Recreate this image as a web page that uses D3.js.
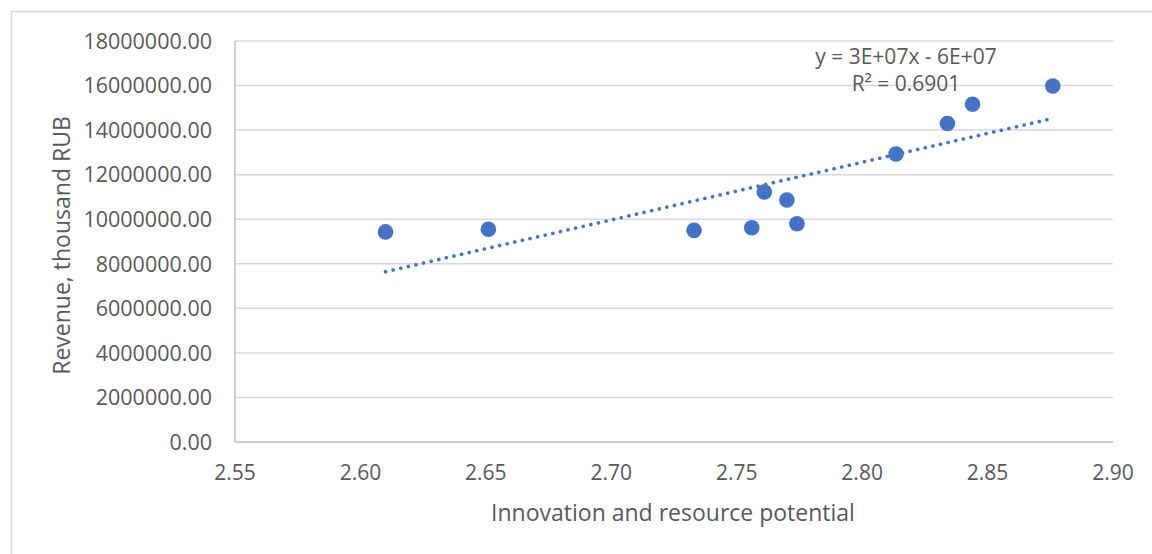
<!DOCTYPE html>
<html>
<head>
<meta charset="utf-8">
<script src="https://cdn.jsdelivr.net/npm/d3@7"></script>
<style>
  html, body { margin: 0; padding: 0; background: #fff; }
  svg { display: block; }
  text { font-family: "Open Sans", sans-serif; fill: #595959; }
</style>
</head>
<body>
<svg id="chart" width="1152" height="554"></svg>
<script>
// Data
const potential = [2.610, 2.651, 2.733, 2.756, 2.761, 2.770, 2.774, 2.8135, 2.834, 2.844, 2.876];
const revenue   = [9430000, 9550000, 9500000, 9620000, 11220000, 10860000, 9800000, 12930000, 14300000, 15160000, 15980000];
const xTicks = [2.55, 2.60, 2.65, 2.70, 2.75, 2.80, 2.85, 2.90];
const yTicks = [0, 2000000, 4000000, 6000000, 8000000, 10000000, 12000000, 14000000, 16000000, 18000000];
const equationText = "y = 3E+07x - 6E+07";
const r2Text = "R² = 0.6901";
const xTitle = "Innovation and resource potential";
const yTitle = "Revenue, thousand RUB";

const svg = d3.select("#chart");
const margin = { left: 235, right: 1113, top: 41, bottom: 442 };

const x = d3.scaleLinear().domain([2.55, 2.90]).range([margin.left, margin.right]);
const y = d3.scaleLinear().domain([0, 18000000]).range([margin.bottom, margin.top]);

// outer frame (only top/left visible)
svg.append("rect")
  .attr("x", 11.5).attr("y", 11.5).attr("width", 1160).attr("height", 600)
  .attr("fill", "none").attr("stroke", "#d9d9d9").attr("stroke-width", 1.5);

// gridlines
svg.append("g").selectAll("line").data(yTicks.filter(d => d > 0)).join("line")
  .attr("x1", margin.left).attr("x2", margin.right)
  .attr("y1", d => y(d)).attr("y2", d => y(d))
  .attr("stroke", "#d9d9d9").attr("stroke-width", 1.5);

// axes lines
svg.append("line").attr("x1", margin.left).attr("x2", margin.right)
  .attr("y1", y(0)).attr("y2", y(0)).attr("stroke", "#bfbfbf").attr("stroke-width", 1.5);
svg.append("line").attr("x1", margin.left).attr("x2", margin.left)
  .attr("y1", y(0)).attr("y2", y(18000000)).attr("stroke", "#bfbfbf").attr("stroke-width", 1.5);

// y tick labels
svg.append("g").selectAll("text").data(yTicks).join("text")
  .attr("x", 212).attr("y", d => y(d)).attr("dy", "0.36em")
  .attr("text-anchor", "end").style("font-size", "21.5px")
  .text(d => d3.format(".2f")(d));

// x tick labels
svg.append("g").selectAll("text").data(xTicks).join("text")
  .attr("x", d => x(d)).attr("y", 480)
  .attr("text-anchor", "middle").style("font-size", "21px")
  .text(d => d3.format(".2f")(d));

// axis titles
svg.append("text").attr("x", 673).attr("y", 521)
  .attr("text-anchor", "middle").style("font-size", "23px").text(xTitle);
svg.append("text").attr("transform", `translate(70, ${(margin.top + margin.bottom) / 2 + 4}) rotate(-90)`)
  .attr("text-anchor", "middle").style("font-size", "23px").text(yTitle);

// linear trendline (least squares)
const n = potential.length;
const mx = d3.mean(potential), my = d3.mean(revenue);
let sxy = 0, sxx = 0;
for (let i = 0; i < n; i++) { sxy += (potential[i] - mx) * (revenue[i] - my); sxx += (potential[i] - mx) ** 2; }
const slope = sxy / sxx, intercept = my - slope * mx;
const x0 = d3.min(potential), x1 = d3.max(potential);
svg.append("line")
  .attr("x1", x(x0)).attr("y1", y(slope * x0 + intercept))
  .attr("x2", x(x1)).attr("y2", y(slope * x1 + intercept))
  .attr("stroke", "#4472c4").attr("stroke-width", 3.6)
  .attr("stroke-dasharray", "0.1 7.7").attr("stroke-linecap", "round");

// points
svg.append("g").selectAll("circle").data(potential.map((p, i) => [p, revenue[i]])).join("circle")
  .attr("cx", d => x(d[0])).attr("cy", d => y(d[1])).attr("r", 7.8)
  .attr("fill", "#4472c4");

// equation labels
svg.append("text").attr("x", 906).attr("y", 64).attr("text-anchor", "middle")
  .style("font-size", "21px").text(equationText);
svg.append("text").attr("x", 906).attr("y", 91).attr("text-anchor", "middle")
  .style("font-size", "21px").text(r2Text);
</script>
</body>
</html>
